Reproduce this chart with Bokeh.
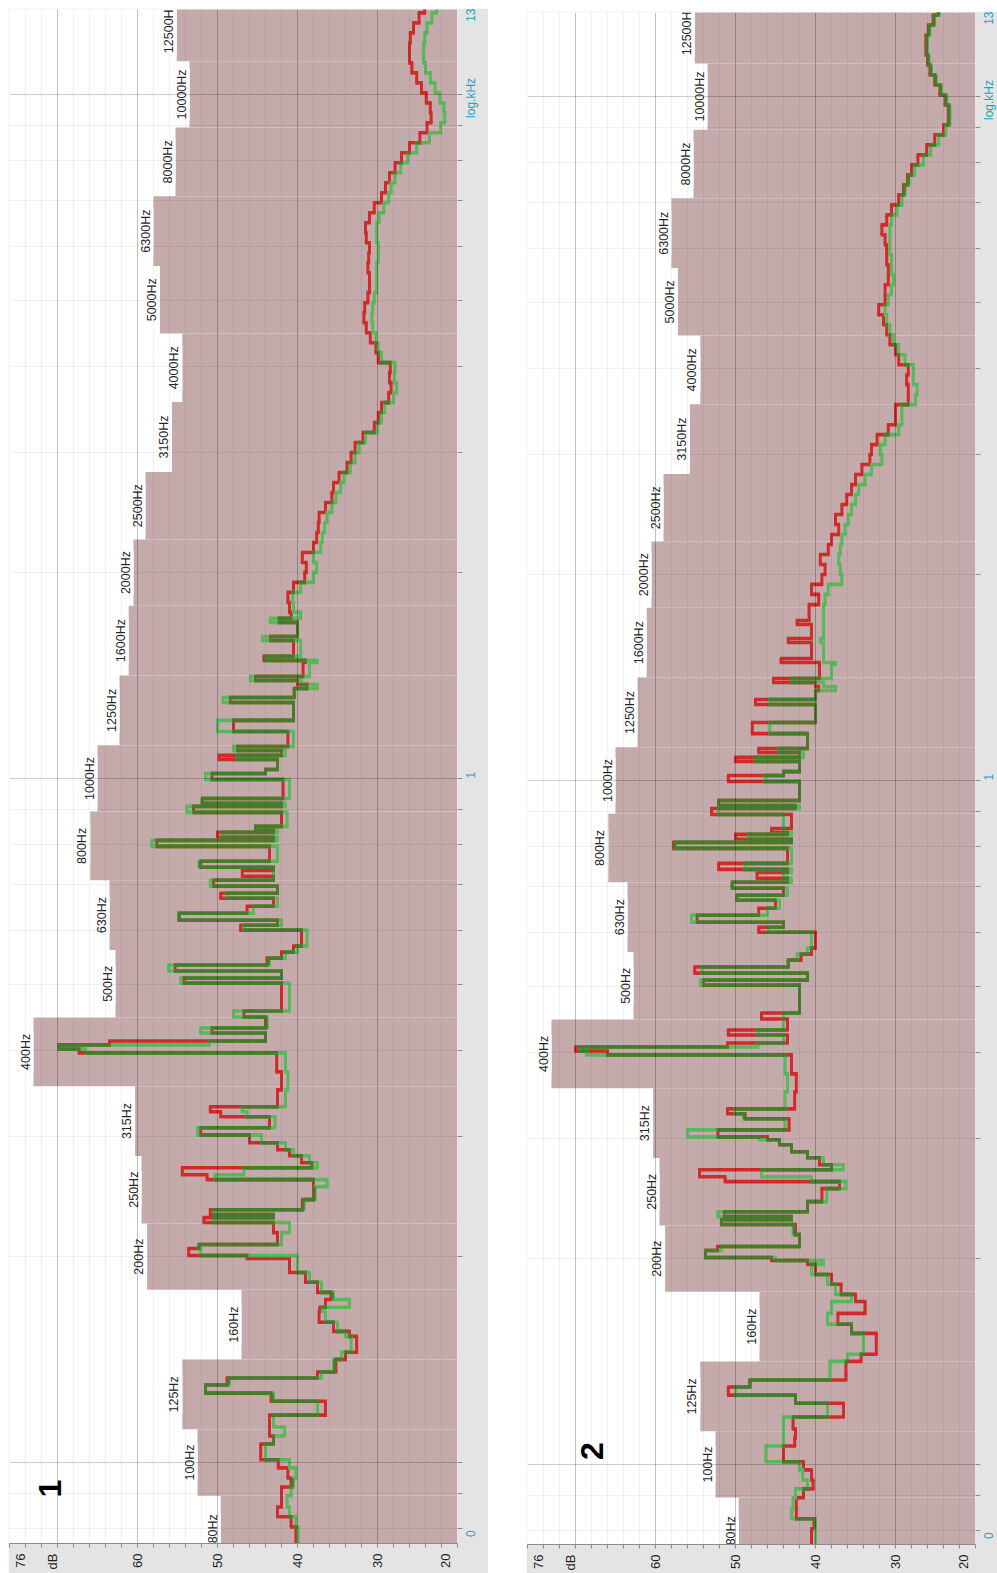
import math
import numpy as np
from bokeh.plotting import figure
from bokeh.models import Range1d, FixedTicker, Spacer
from bokeh.layouts import row, column
from bokeh.core.properties import value
from bokeh.embed import file_html
from bokeh.resources import INLINE

# ---------------- data ----------------
freq_hz = [
    75, 80.5, 83.3, 86.1, 89.4, 92.1, 94.9, 98.2, 100.9, 106.4,
    109.3, 112.7, 117.3, 122.9, 126.3, 129.8, 132.9, 135.6, 141.5, 144.9,
    152.9, 155.5, 160.3, 166.3, 168.6, 173.1, 177.3, 183.4, 189.6, 196.1,
    198.7, 200.7, 205.5, 208.3, 216.8, 224.3, 228.0, 230.3, 234.2, 242.3,
    253.1, 259.1, 263.4, 269.7, 274.3, 280.8, 286.6, 293.4, 298.3, 301.3,
    308.5, 320.2, 325.6, 331.1, 350.5, 372.4, 397.0, 402.3, 407.8, 413.3,
    424.5, 431.7, 448.0, 457.1, 502.2, 510.7, 522.9, 533.6, 546.2, 557.3,
    568.7, 600.1, 610.2, 620.6, 635.4, 650.5, 668.2, 679.5, 695.7, 709.8,
    719.4, 734.0, 741.5, 756.6, 795.7, 811.9, 820.2, 834.0, 839.6, 851.0,
    892.0, 910.2, 919.4, 935.0, 996.6, 1017, 1030.5, 1066.4, 1080.9, 1098.6,
    1113.5, 1171.1, 1215.8, 1291.5, 1313.4, 1354, 1372.3, 1390.6, 1409.4, 1478,
    1488, 1508.1, 1591.3, 1612.8, 1691.1, 1714, 1749, 1808, 1871, 1935,
    2001, 2069, 2140, 2213, 2289, 2367, 2448, 2532, 2619, 2708,
    2801, 2897, 2996, 3098, 3204, 3313, 3427, 3544, 3665, 3791,
    3920, 4054, 4193, 4336, 4484, 4638, 4797, 4961, 5131, 5306,
    5488, 5675, 5870, 6070, 6278, 6492, 6714, 6944, 7182, 7428,
    7682, 7945, 8216, 8497, 8788, 9089, 9400, 9721, 10054, 10398,
    10753, 11121, 11502, 11896, 12302, 12724, 13159,
]

red_1 = [
    40.2, 40.8, 42.5, 42.0, 42.0, 40.8, 41.2, 42.4, 44.6, 43.0,
    43.5, 43.5, 36.5, 43.3, 51.5, 48.8, 37.5, 35.2, 34.0, 32.6,
    33.5, 35.5, 37.3, 37.2, 36.5, 35.8, 37.5, 39.0, 41.0, 41.0,
    46.3, 53.6, 52.3, 42.5, 43.0, 51.7, 43.0, 50.9, 39.4, 38.0,
    38.0, 51.3, 54.4, 38.2, 39.5, 41.0, 42.5, 46.0, 46.0, 52.1,
    43.5, 49.6, 50.9, 42.5, 42.0, 42.6, 67.3, 69.8, 63.5, 44.0,
    50.7, 44.0, 46.7, 42.0, 54.2, 42.0, 55.3, 43.8, 42.0, 40.5,
    39.5, 47.1, 42.5, 54.8, 46.3, 43.0, 49.6, 42.5, 50.5, 43.0,
    46.9, 43.0, 52.1, 43.5, 57.6, 43.0, 50.0, 43.0, 45.25, 42.0,
    53.0, 42.0, 51.9, 41.8, 50.7, 44.0, 42.5, 49.8, 42.0, 47.5,
    41.2, 48.0, 40.5, 48.4, 40.4, 38.8, 40.0, 45.25, 39.3, 39.0,
    44.2, 40.5, 43.4, 40.0, 42.3, 40.8, 41.0, 41.2, 40.5, 39.1,
    38.9, 39.4, 38.0, 37.6, 37.4, 37.3, 36.5, 35.7, 35.5, 34.8,
    33.8, 33.3, 32.8, 31.8, 30.4, 29.9, 29.5, 28.6, 28.3, 28.5,
    28.4, 29.9, 30.2, 30.9, 31.4, 31.7, 31.6, 31.2, 31.0, 31.0,
    31.2, 31.1, 31.0, 31.4, 31.5, 31.0, 30.4, 29.5, 29.0, 28.5,
    27.8, 27.0, 26.0, 24.7, 23.8, 23.3, 23.4, 23.9, 24.5, 25.1,
    25.7, 26.0, 26.0, 25.9, 25.5, 24.8, 24.1,
]

green_1 = [
    39.9, 40.2, 41.0, 41.3, 40.8, 40.5, 40.2, 41.0, 44.0, 43.0,
    41.6, 43.0, 37.5, 43.0, 51.5, 48.5, 37.0, 35.5, 34.5, 33.3,
    34.0, 35.0, 36.5, 36.8, 33.5, 35.5, 37.0, 38.5, 40.0, 40.0,
    40.0, 52.1, 52.3, 42.0, 41.0, 50.5, 43.0, 50.5, 39.2, 37.8,
    36.3, 50.3, 46.7, 37.5, 38.5, 40.5, 41.5, 44.5, 44.5, 52.5,
    42.8, 46.3, 46.9, 41.5, 41.2, 41.5, 66.5, 69.8, 51.0, 44.0,
    52.1, 43.8, 48.0, 41.0, 54.6, 42.0, 56.1, 43.5, 41.5, 40.0,
    38.8, 46.7, 42.0, 54.8, 45.5, 42.5, 48.8, 42.5, 50.9, 43.0,
    43.0, 43.0, 52.3, 42.5, 58.2, 42.5, 49.4, 42.5, 45.25, 41.3,
    53.8, 41.5, 51.9, 41.0, 51.5, 44.0, 42.5, 47.6, 41.5, 48.0,
    40.5, 50.0, 40.5, 49.3, 40.4, 37.5, 39.5, 45.9, 38.5, 37.5,
    44.0, 39.6, 44.4, 40.0, 43.4, 39.6, 40.5, 40.6, 39.6, 38.0,
    37.6, 38.0, 37.1, 36.9, 36.6, 36.3, 35.7, 35.2, 34.6, 34.2,
    33.4, 32.8, 32.3, 31.5, 30.0, 29.5, 29.1, 28.0, 27.6, 27.9,
    27.8, 29.5, 29.9, 30.2, 30.6, 30.7, 30.6, 30.4, 30.1, 30.1,
    30.1, 29.9, 29.9, 30.1, 30.1, 29.8, 29.2, 28.6, 28.3, 27.8,
    27.1, 26.2, 25.1, 23.5, 22.1, 21.6, 21.7, 22.2, 22.8, 23.4,
    24.0, 24.25, 24.25, 24.1, 23.8, 23.2, 22.6,
]

red_2 = [
    40.5, 40.2, 42.4, 42.4, 41.5, 40.3, 40.5, 41.5, 44.0, 42.6,
    42.5, 42.8, 36.5, 42.5, 50.9, 48.2, 36.2, 36.2, 34.3, 32.4,
    32.4, 35.5, 37.2, 33.8, 33.8, 35.0, 36.8, 38.0, 40.0, 41.0,
    45.5, 53.75, 52.25, 42.0, 42.5, 51.75, 43.0, 51.4, 41.0, 39.2,
    37.0, 51.3, 54.5, 38.0, 39.5, 41.0, 43.0, 44.5, 46.0, 52.2,
    43.3, 48.8, 51.0, 42.6, 42.4, 43.0, 66.0, 70.0, 51.0, 43.5,
    50.9, 43.5, 46.75, 42.0, 54.0, 41.0, 55.1, 43.4, 41.8, 40.5,
    40.0, 47.1, 44.0, 54.8, 47.1, 45.0, 49.8, 44.0, 50.4, 43.5,
    47.3, 43.5, 52.1, 43.5, 57.75, 43.0, 50.0, 43.5, 45.5, 43.0,
    53.0, 42.5, 52.1, 42.0, 50.9, 44.0, 42.0, 50.0, 42.0, 47.1,
    41.0, 47.9, 40.0, 47.5, 40.0, 39.6, 40.0, 45.25, 39.5, 39.5,
    44.3, 40.5, 43.4, 40.5, 42.3, 40.8, 40.8, 39.6, 40.5, 39.2,
    38.8, 39.4, 38.4, 38.0, 37.1, 37.5, 36.7, 36.1, 35.5, 35.0,
    34.2, 33.2, 33.0, 32.3, 30.9, 30.0, 30.0, 28.4, 28.4, 28.6,
    28.4, 29.6, 30.0, 30.7, 31.1, 31.5, 32.1, 31.3, 31.3, 30.9,
    30.9, 31.1, 31.1, 31.3, 31.7, 31.1, 30.5, 29.6, 29.0, 28.5,
    28.0, 27.2, 26.1, 25.1, 24.0, 23.4, 23.4, 23.8, 24.45, 25.1,
    25.7, 26.0, 26.2, 26.2, 25.9, 25.3, 24.7,
]

green_2 = [
    40.0, 40.0, 43.0, 42.8, 42.5, 41.0, 41.6, 42.0, 46.2, 44.0,
    44.0, 44.0, 38.5, 42.5, 50.0, 48.2, 38.2, 38.2, 36.0, 34.0,
    34.0, 35.5, 38.5, 38.0, 38.0, 35.5, 37.5, 38.5, 40.5, 39.0,
    45.0, 53.75, 51.75, 42.0, 42.8, 51.75, 43.0, 52.2, 41.0, 38.6,
    36.2, 40.5, 46.75, 36.5, 39.0, 41.0, 43.0, 44.5, 47.0, 56.0,
    43.8, 49.0, 50.1, 43.8, 43.5, 43.8, 68.6, 69.5, 47.2, 44.0,
    47.2, 44.0, 44.0, 42.0, 54.4, 41.0, 54.2, 43.4, 42.3, 41.0,
    40.5, 45.9, 44.0, 55.5, 46.0, 44.5, 49.8, 43.5, 50.4, 43.0,
    44.0, 43.0, 48.8, 43.0, 57.5, 43.0, 48.4, 43.0, 44.0, 44.0,
    52.1, 42.0, 52.1, 42.0, 46.3, 44.0, 42.0, 47.5, 41.5, 44.6,
    41.0, 45.7, 40.0, 45.7, 40.0, 37.5, 39.0, 43.0, 38.0, 37.5,
    39.0, 39.0, 39.4, 39.0, 39.0, 39.0, 39.0, 38.8, 38.4, 36.7,
    36.9, 37.1, 36.9, 36.7, 36.3, 35.9, 35.5, 35.0, 34.6, 33.8,
    33.0, 31.7, 31.9, 31.3, 29.6, 29.2, 29.2, 27.5, 27.3, 27.75,
    27.75, 28.8, 29.6, 30.25, 30.7, 31.1, 31.3, 30.9, 30.5, 30.25,
    30.5, 30.5, 30.7, 30.7, 30.7, 30.5, 29.8, 29.2, 28.8, 28.3,
    27.6, 26.5, 25.6, 24.6, 23.7, 23.2, 23.2, 23.6, 24.25, 24.9,
    25.5, 25.8, 26.0, 26.0, 25.7, 25.1, 24.5,
]

band_hz = [80, 100, 125, 160, 200, 250, 315, 400, 500, 630, 800, 1000,
           1250, 1600, 2000, 2500, 3150, 4000, 5000, 6300, 8000, 10000, 12500]
band_limit_db = [49.6, 52.5, 54.4, 47.0, 58.8, 59.5, 60.3, 73.0, 62.75, 63.5, 65.9, 65.0,
                 62.25, 61.1, 60.5, 59.0, 55.7, 54.4, 57.2, 58.0, 55.25, 53.5, 55.1]

db_tick_pos = [74.6, 70.6, 60, 50, 40, 30, 21.5]
db_tick_text = ["76", "dB", "60", "50", "40", "30", "20"]
db_minor = list(range(20, 77, 2))
db_grid_major = [70, 60, 50, 40, 30]
khz_tick_pos = [0.0778, 1, 9.24, 13]
khz_tick_text = ["0", "1", "log.kHz", "13"]
khz_grid_major = [0.1, 1, 10]
khz_grid_minor = [0.08, 0.09, 0.2, 0.3, 0.4, 0.5, 0.6, 0.7, 0.8, 0.9,
                  2, 3, 4, 5, 6, 7, 8, 9]

assert len(freq_hz) == len(red_1) == len(green_1) == len(red_2) == len(green_2)

# ---------------- style ----------------
RED = "#d12a2a"
GREEN = "#58b85c"
DARK = "#4a7a2c"
BROWN = "#c4aaaa"
CYAN = "#1fa2c0"
STRIP = "#e4e4e4"
FONT = value("Liberation Sans")
F_END_KHZ = 14.0

f_k = [f / 1000.0 for f in freq_hz] + [F_END_KHZ]
band_c = np.array(band_hz, dtype=float)
mids = np.sqrt(band_c[:-1] * band_c[1:])
band_lo = np.concatenate([[band_c[0] ** 2 / mids[0]], mids]) / 1000.0
band_hi = np.concatenate([mids, [band_c[-1] ** 2 / mids[-1]]]) / 1000.0
band_mid = np.sqrt(band_lo * band_hi)
band_text = [f"{b}Hz" for b in band_hz]

VW = 3.0      # width of constant-level strokes (px)
JH = 3.6      # thickness of level jumps (px)
PAD_DB = 0.35


def draw_trace(p, d, color):
    p.segment(x0=list(d), y0=f_k[:-1], x1=list(d), y1=f_k[1:],
              line_color=color, line_width=VW)
    jx, jy, jw = [], [], []
    for i in range(len(d) - 1):
        a, b = d[i], d[i + 1]
        jx.append((a + b) / 2)
        jy.append(f_k[i + 1])
        jw.append(abs(b - a) + PAD_DB)
    p.rect(x=jx, y=jy, width=jw, height=JH, height_units="screen",
           fill_color=color, line_color=None)


def draw_overlap(p, r, g):
    x0, y0, y1 = [], [], []
    for i in range(len(r)):
        if abs(r[i] - g[i]) <= 0.3:
            x0.append((r[i] + g[i]) / 2)
            y0.append(f_k[i])
            y1.append(f_k[i + 1])
    p.segment(x0=x0, y0=y0, x1=x0, y1=y1, line_color=DARK, line_width=VW)
    jx, jy, jw = [], [], []
    for i in range(len(r) - 1):
        lo = max(min(r[i], r[i + 1]), min(g[i], g[i + 1]))
        hi = min(max(r[i], r[i + 1]), max(g[i], g[i + 1]))
        if hi - lo >= -0.1:
            jx.append((lo + hi) / 2)
            jy.append(f_k[i + 1])
            jw.append(max(hi - lo, 0) + PAD_DB)
    p.rect(x=jx, y=jy, width=jw, height=JH, height_units="screen",
           fill_color=DARK, line_color=None)


def make_panel(red, green, num_text, num_pos, frame_h, y_lo, y_hi,
               right_border, bottom_border):
    p = figure(frame_width=448, frame_height=frame_h,
               x_range=Range1d(76, 20), y_range=Range1d(y_lo, y_hi),
               y_axis_type="log", y_axis_location="right",
               output_backend="svg", toolbar_location=None,
               min_border_left=1, min_border_top=1,
               min_border_right=right_border, min_border_bottom=bottom_border,
               background_fill_color="white", border_fill_color=STRIP,
               outline_line_color=None)

    # bottom (dB) axis
    xa = p.xaxis[0]
    xa.ticker = FixedTicker(ticks=db_tick_pos, minor_ticks=db_minor)
    xa.major_label_overrides = {k: t for k, t in zip(db_tick_pos, db_tick_text)}
    xa.major_label_orientation = math.pi / 2
    xa.major_tick_out = 0
    xa.major_tick_in = 0
    xa.minor_tick_out = 4
    xa.minor_tick_in = 0
    xa.axis_line_color = "#8c8c8c"
    xa.minor_tick_line_color = "#8c8c8c"
    xa.major_label_standoff = 6
    xa.major_label_text_font = "Liberation Sans"
    xa.major_label_text_font_size = "13px"
    xa.major_label_text_color = "#1e1e1e"

    # right (log kHz) axis
    ya = p.yaxis[0]
    ya.ticker = FixedTicker(ticks=khz_tick_pos, minor_ticks=khz_grid_major + khz_grid_minor)
    ya.major_label_overrides = {k: t for k, t in zip(khz_tick_pos, khz_tick_text)}
    ya.major_label_orientation = math.pi / 2
    ya.major_tick_out = 0
    ya.major_tick_in = 0
    ya.minor_tick_out = 5
    ya.minor_tick_in = 0
    ya.axis_line_color = None
    ya.minor_tick_line_color = "#8c8c8c"
    ya.major_label_standoff = 9
    ya.major_label_text_font = "Liberation Sans"
    ya.major_label_text_font_size = "12px"
    ya.major_label_text_color = CYAN

    # grids drawn above the brown limit area
    p.xgrid.ticker = FixedTicker(ticks=db_grid_major, minor_ticks=db_minor)
    p.ygrid.ticker = FixedTicker(ticks=khz_grid_major, minor_ticks=khz_grid_minor)
    for g in (p.xgrid[0], p.ygrid[0]):
        g.level = "glyph"
        g.grid_line_color = "black"
        g.grid_line_alpha = 0.2
        g.minor_grid_line_color = "black"
        g.minor_grid_line_alpha = 0.06

    # 1/3-octave limit area
    p.quad(left=band_limit_db, right=20, bottom=band_lo, top=band_hi,
           fill_color=BROWN, line_color=None, level="underlay")

    # spectra
    draw_trace(p, red, RED)
    draw_trace(p, green, GREEN)
    draw_overlap(p, red, green)

    # band labels
    p.text(x=band_limit_db, y=band_mid, text=band_text, angle=math.pi / 2,
           text_align="center", text_baseline="bottom", text_font=FONT,
           text_font_size="12.5px", text_color="#262626",
           background_fill_color="white", padding=1)

    # panel number
    p.text(x=[num_pos[0]], y=[num_pos[1]], text=[num_text], angle=math.pi / 2,
           text_align="center", text_baseline="middle", text_font=FONT,
           text_font_style="bold", text_font_size="32px", text_color="black",
           background_fill_color="white", padding=3)
    return p


p1 = make_panel(red_1, green_1, "1", (70.9, 0.0916), 1534, 0.07613, 13.31, 30, 30)
p2 = make_panel(red_2, green_2, "2", (68.0, 0.1046), 1532, 0.07638, 13.27, 23, 29)

layout = row(
    Spacer(width=8, height=1573),
    column(Spacer(width=479, height=8), p1),
    Spacer(width=38, height=1573),
    column(Spacer(width=472, height=11), p2),
)
open("out.html", "w").write(file_html(layout, INLINE))
